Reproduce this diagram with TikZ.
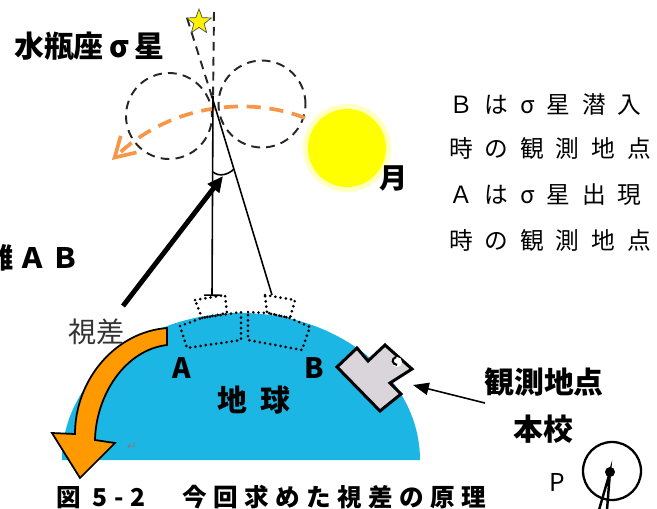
\documentclass[tikz,border=0pt]{standalone}
\usepackage{fontspec}
\newfontfamily\jp{Noto Sans CJK JP}
\newfontfamily\sym{DejaVu Sans}
\usetikzlibrary{arrows.meta,shapes.geometric}
\newcommand\jsize[1]{\fontsize{#1}{#1}\selectfont}
\definecolor{earth}{RGB}{28,182,228}
\definecolor{moonglow}{RGB}{255,255,190}
\definecolor{moonyellow}{RGB}{255,255,0}
\definecolor{pathorange}{RGB}{247,150,70}
\definecolor{turnorange}{RGB}{255,153,0}
\definecolor{school}{RGB}{217,213,218}
\tikzset{
  orbit/.style={circle, draw=black!85, dash pattern=on 5pt off 3.5pt, line width=1.1pt, inner sep=0pt},
  starline/.style={draw=black!85, dash pattern=on 5pt off 3.5pt, line width=1.1pt},
  sightline/.style={line width=0.9pt},
  siteline/.style={line width=1.7pt, line cap=round, dash pattern=on 0pt off 3pt},
  label/.style={font=\jp\bfseries\jsize{16}},
  note/.style={anchor=west, font=\jp\jsize{13.5}\addfontfeature{LetterSpace=50}}
}
\begin{document}
\begin{tikzpicture}[x=0.02cm,y=-0.02cm]
\useasboundingbox (0,0) rectangle (657,508);

% earth and moon
\fill[earth] (62,460) arc[start angle=180,end angle=360,x radius=179,y radius=147] -- cycle;
\fill[moonglow] (347,148) circle[radius=44];
\fill[moonyellow] (347,148) circle[radius=39];
\node[label] (moon) at (394,178) {月};

% the two dashed loops and the moon's path
\node[orbit, minimum size=1.72cm] (loopL) at (169,116) {};
\node[orbit, minimum size=1.74cm] (loopR) at (262,104) {};
\draw[pathorange, line width=2.1pt, dash pattern=on 8pt off 5pt, -{Straight Barb[length=11pt,width=13pt]}]
  (305,118) .. controls (255,98) and (175,100) .. (112,160);

% star and lines of sight
\coordinate (apex) at (213,100);
\coordinate (obsA) at (212,296);
\coordinate (obsB) at (272,295);
\draw[starline] (187,18) -- (apex);
\draw[starline] (214,12) -- (apex);
\node[star, star points=5, star point ratio=2.4, fill=yellow, draw=black!70, minimum size=0.52cm, inner sep=0pt] (sigma) at (199,22) {};
\draw[sightline, {Bar[width=9pt]}-] (obsA) -- (apex) -- ++(0,-4);
\draw[sightline] (obsB) -- (apex) -- ++(-1.2,-4);
\draw[sightline] (213,172) .. controls (219,177) and (228,175) .. (234,169);
\draw[line width=2.8pt, -{Triangle[length=9pt,width=8pt]}] (123,306) -- (223,176);

% observers at A and B
\draw[siteline] (195,300) -- (225,295) -- (227,313) -- (202,318) -- cycle;
\draw[siteline] (180,326) -- (202,318) -- (241,312) -- (241,340) -- (187,348) -- cycle;
\draw[siteline] (265,295) -- (295,300) -- (290,318) -- (267,313) -- cycle;
\draw[siteline] (248,312) -- (268,313) -- (290,318) -- (310,327) -- (302,350) -- (248,340) -- cycle;

% rotation of the earth
\filldraw[fill=turnorange, line width=1pt]
  (167,328) .. controls (115,332) and (75,380) .. (75,434) -- (52,433) -- (80,478)
  -- (115,443) -- (95,440) .. controls (96,395) and (125,350) .. (167,345) -- cycle;
\node[gray, font=\sym\jsize{7}] (ret) at (132,447) {↵};

% the school
\filldraw[fill=school, line width=1.7pt, line join=miter]
  (337,367) -- (357,348) -- (368,361) -- (385,345) -- (412,369) -- (390,383)
  -- (401,394) -- (380,411) -- cycle;
\fill[white] (397,362) circle[radius=5];
\draw[line width=1.2pt] (396,357) .. controls (391,359) and (392,364) .. (397,365);
\coordinate (school) at (413,385);
\coordinate (ptfrom) at (485,403);
\draw[line width=0.9pt, -{Triangle[length=9pt,width=7pt]}] (ptfrom) -- (school);

% P
\node[circle, draw, line width=1.3pt, minimum size=1.16cm, inner sep=0pt] (pcirc) at (612,471) {};
\fill (610,472) circle[radius=5] coordinate (pdot);
\draw[line width=1.4pt] (599,510) -- (pdot) -- (607,510);
\node[font=\jp\jsize{14}] (P) at (557,482) {P};

% labels
\node[label, font=\jp\bfseries\jsize{17}, anchor=west] (aqr) at (8,46) {水瓶座\hspace{3pt}σ\hspace{3pt}星};
\node[font=\jp\bfseries\jsize{16}\addfontfeature{LetterSpace=18}, anchor=east] (dist) at (86,258) {距離ＡＢ};
\node[font=\jp\jsize{16}, black!80] (plx) at (97,332) {視差};
\node[label] (A) at (182,368) {A};
\node[label] (B) at (314,368) {B};
\node[label, font=\jp\bfseries\jsize{17}\addfontfeature{LetterSpace=45}] (globe) at (254,400) {地球};
\node[label, font=\jp\bfseries\jsize{17}] (site) at (544,382) {観測地点};
\node[label, font=\jp\bfseries\jsize{17}] (honkou) at (543,429) {本校};
\node[note] (n1) at (443,104) {Ｂはσ星潜入};
\node[note] (n2) at (443,149) {時の観測地点};
\node[note] (n3) at (443,195) {Ａはσ星出現};
\node[note] (n4) at (443,241) {時の観測地点};
\node[font=\jp\bfseries\jsize{14}\addfontfeature{LetterSpace=26}, anchor=west] (cap) at (50,497) {図 5-2　今回求めた視差の原理};
\end{tikzpicture}
\end{document}
